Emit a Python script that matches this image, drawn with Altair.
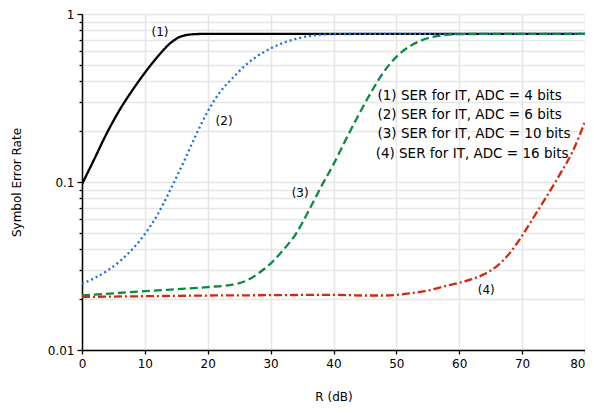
import altair as alt
import pandas as pd

# ---- data ----
x1 = [0, 2, 4, 6, 8, 10, 12, 14, 16, 18, 20, 30, 40, 50, 60, 70, 80]
y1 = [0.097, 0.138, 0.197, 0.269, 0.351, 0.447, 0.556, 0.668, 0.741, 0.759, 0.762, 0.762, 0.762, 0.762, 0.762, 0.762, 0.762]

x2 = [0, 2, 4, 6, 8, 10, 12, 14, 16, 18, 20, 22, 24, 26, 28, 30, 32, 34, 36, 38, 40, 50, 60, 70, 80]
y2 = [0.0248, 0.0268, 0.0296, 0.0337, 0.0398, 0.049, 0.0638, 0.0891, 0.1274, 0.1862, 0.263, 0.345, 0.417, 0.4955, 0.565, 0.624, 0.673, 0.711, 0.738, 0.753, 0.759, 0.762, 0.762, 0.762, 0.762]

x3 = [0, 10, 20, 24, 26, 28, 30, 32, 34, 36, 38, 40, 42, 44, 46, 48, 50, 52, 54, 56, 58, 60, 70, 80]
y3 = [0.0211, 0.0224, 0.0237, 0.0245, 0.0257, 0.0285, 0.0327, 0.0394, 0.049, 0.0668, 0.0933, 0.1274, 0.18, 0.251, 0.343, 0.452, 0.556, 0.638, 0.697, 0.733, 0.752, 0.759, 0.762, 0.762]

x4 = [0, 10, 20, 30, 40, 45, 48, 50, 52, 55, 58, 60, 62, 64, 66, 68, 70, 72, 74, 76, 78, 80]
y4 = [0.0207, 0.0209, 0.0211, 0.0212, 0.0213, 0.0211, 0.0211, 0.0213, 0.0217, 0.0226, 0.0241, 0.0251, 0.0264, 0.0283, 0.0316, 0.0376, 0.0479, 0.0631, 0.0832, 0.111, 0.151, 0.229]

series_ids = ["1", "2", "3", "4"]
colors = ["#000000", "#1a6fdf", "#0b8a45", "#d42a0c"]
dashes = [[1, 0], [2, 3], [8, 4], [8, 3, 2, 3]]

curve_labels = ["(1)", "(2)", "(3)", "(4)"]
curve_label_x = [12.4, 22.6, 34.7, 64.3]
curve_label_y = [0.78, 0.23, 0.086, 0.0229]

legend_lines = [
    "(1) SER for IT, ADC = 4 bits",
    "(2) SER for IT, ADC = 6 bits",
    "(3) SER for IT, ADC = 10 bits",
    "(4) SER for IT, ADC = 16 bits",
]
legend_x = [47.0, 47.0, 47.0, 46.7]
legend_y = [0.327, 0.252, 0.192, 0.1465]

x_ticks = [0, 10, 20, 30, 40, 50, 60, 70, 80]
y_ticks = [0.01, 0.02, 0.03, 0.04, 0.05, 0.06, 0.07, 0.08, 0.09,
           0.1, 0.2, 0.3, 0.4, 0.5, 0.6, 0.7, 0.8, 0.9, 1]

FONT = "DejaVu Sans"

xs = alt.Scale(domain=[0, 80], nice=False, zero=False)
ys = alt.Scale(type="log", domain=[0.01, 1], nice=False)

xaxis = alt.Axis(values=x_ticks, title="R (dB)", grid=True, gridColor="#e6e6e6",
                 gridWidth=1.6, domainColor="black", domainWidth=1.5,
                 tickColor="black", tickSize=4, tickWidth=1.3, labelFont=FONT, labelFontSize=12,
                 labelColor="black", labelPadding=4, labelFlush=False,
                 labelAlign={"condition": {"test": "datum.value == 80", "value": "right"}, "value": "center"},
                 titleFont=FONT, titleFontSize=12,
                 titleFontWeight="normal", titleColor="black", titlePadding=22)

major_test = "datum.value == 1 || datum.value == 0.1 || datum.value == 0.01"
yaxis = alt.Axis(values=y_ticks, title="Symbol Error Rate", grid=True, gridColor="#e6e6e6",
                 gridWidth=1.6, domainColor="black", domainWidth=1.5,
                 tickColor="black", tickWidth=1.3,
                 tickSize={"condition": {"test": major_test, "value": 5}, "value": 3},
                 labelExpr="datum.value == 1 ? '1' : (datum.value == 0.1 ? '0.1' : (datum.value == 0.01 ? '0.01' : ''))",
                 labelFont=FONT, labelFontSize=12, labelColor="black", labelPadding=3,
                 labelFlush=False,
                 titleFont=FONT, titleFontSize=12, titleFontWeight="normal",
                 titleColor="black", titlePadding=24)

rows = []
for sid, xv, yv in zip(series_ids, [x1, x2, x3, x4], [y1, y2, y3, y4]):
    for a, b in zip(xv, yv):
        rows.append({"s": sid, "x": a, "y": b})
df = pd.DataFrame(rows)

X = alt.X("x:Q", scale=xs, axis=xaxis)
Y = alt.Y("y:Q", scale=ys, axis=yaxis)

layers = []
for i, sid in enumerate(series_ids):
    layer = alt.Chart(df[df.s == sid]).mark_line(
        color=colors[i], strokeWidth=2.3, strokeDash=dashes[i], interpolate="monotone",
        clip=True
    ).encode(x=X, y=Y)
    layers.append(layer)

lab_df = pd.DataFrame({"t": curve_labels, "x": curve_label_x, "y": curve_label_y})
labels = alt.Chart(lab_df).mark_text(font=FONT, fontSize=12, color="black").encode(
    x=X, y=Y, text="t:N")

leg_df = pd.DataFrame({"t": legend_lines, "x": legend_x, "y": legend_y})
legend = alt.Chart(leg_df).mark_text(font=FONT, fontSize=13.5, color="black", align="left").encode(
    x=X, y=Y, text="t:N")

chart = alt.layer(*layers, labels, legend).properties(
    width=503, height=336,
    autosize=alt.AutoSizeParams(type="none"),
    padding={"left": 74, "top": 6, "right": 0, "bottom": 55},
).configure_view(stroke=None).configure(background="white")

chart.save("out.html", embed_options={"renderer": "svg", "actions": False})
